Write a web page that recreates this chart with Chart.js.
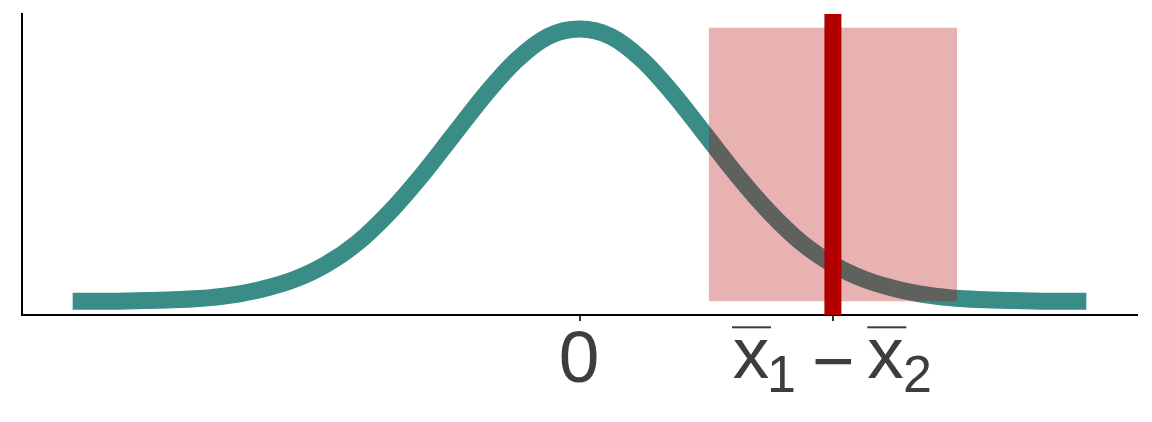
<!DOCTYPE html>
<html>
<head>
<meta charset="utf-8">
<style>
  html, body { margin: 0; padding: 0; background: #ffffff; }
  #wrap { width: 1152px; height: 422px; }
</style>
<script src="https://cdn.jsdelivr.net/npm/chart.js@4.4.0/dist/chart.umd.min.js"></script>
</head>
<body>
<div id="wrap"><canvas id="c" width="1152" height="422"></canvas></div>
<script>
// ---- data ----
const curveX = [-4, -3.75, -3.5, -3.25, -3, -2.75, -2.5, -2.25, -2, -1.75, -1.5, -1.25, -1, -0.75, -0.5, -0.25,
                0, 0.25, 0.5, 0.75, 1, 1.25, 1.5, 1.75, 2, 2.25, 2.5, 2.75, 3, 3.25, 3.5, 3.75, 4];
const curveY = [0.000, 0.000, 0.001, 0.002, 0.004, 0.009, 0.018, 0.032, 0.054, 0.086, 0.130, 0.183, 0.242, 0.301, 0.352, 0.387,
                0.398, 0.387, 0.352, 0.301, 0.242, 0.183, 0.130, 0.086, 0.054, 0.032, 0.018, 0.009, 0.004, 0.002, 0.001, 0.000, 0.000];
const intervalLow = [1.02];
const intervalHigh = [2.98];
const intervalTop = [0.40];
const observedDiff = [2];
const xTickValues = [0, 2];
const xTickLabels = ['0', 'x̄₁ − x̄₂'];

// ---- styles ----
const TEAL = '#3a8c86';
const RED = '#b20000';
const TEXT = '#3d3d3d';
const FONT = "'Liberation Sans', Arial, sans-serif";

const curveData = curveX.map((x, i) => ({ x: x, y: curveY[i] }));
const rectData = [{ x: intervalLow[0], y: intervalTop[0] }, { x: intervalHigh[0], y: intervalTop[0] }];

// label drawing: plain tick text, or x-bar-with-subscript expression
function drawInk(ctx, text, size, left, bottom) {
  ctx.font = size + 'px ' + FONT;
  const m = ctx.measureText(text);
  ctx.fillText(text, left + m.actualBoundingBoxLeft, bottom - m.actualBoundingBoxDescent);
  return m;
}

const labelPlugin = {
  id: 'labels',
  afterDraw(chart) {
    const ctx = chart.ctx;
    const xs = chart.scales.x;
    ctx.save();
    ctx.fillStyle = TEXT;
    ctx.textAlign = 'left';
    ctx.textBaseline = 'alphabetic';
    xTickValues.forEach((v, i) => {
      const p = xs.getPixelForValue(v);
      const label = xTickLabels[i];
      if (label === '0') {
        ctx.font = '73px ' + FONT;
        const m = ctx.measureText(label);
        const w = m.actualBoundingBoxLeft + m.actualBoundingBoxRight;
        drawInk(ctx, label, 73, p - 0.8 - w / 2, 382.7);
      } else {
        // x̄₁ − x̄₂
        drawInk(ctx, 'x', 73, p - 100.2, 378.3);
        ctx.fillRect(p - 100.9, 326.3, 39, 2);
        drawInk(ctx, '1', 52, p - 62.9, 391.7);
        ctx.font = '73px ' + FONT;
        const mm = ctx.measureText('−');
        const cy = 362;
        ctx.fillText('−', p - 17.9 + mm.actualBoundingBoxLeft,
          cy + (mm.actualBoundingBoxAscent - mm.actualBoundingBoxDescent) / 2);
        drawInk(ctx, 'x', 73, p + 34.4, 378.3);
        ctx.fillRect(p + 34.4, 326.3, 39, 2);
        drawInk(ctx, '2', 52, p + 72.1, 391.7);
      }
    });
    ctx.restore();
  }
};

new Chart(document.getElementById('c'), {
  type: 'line',
  data: {
    datasets: [
      {
        label: 'observed difference',
        data: [{ x: observedDiff[0], y: -0.02 }, { x: observedDiff[0], y: 0.42 }],
        borderColor: RED,
        borderWidth: 17,
        borderCapStyle: 'butt',
        pointRadius: 0,
        fill: false
      },
      {
        label: 'interval',
        data: rectData,
        borderWidth: 0,
        borderColor: 'rgba(0,0,0,0)',
        backgroundColor: 'rgba(178,0,0,0.3)',
        pointRadius: 0,
        fill: 'origin'
      },
      {
        label: 'null distribution',
        data: curveData,
        borderColor: TEAL,
        borderWidth: 17,
        borderCapStyle: 'butt',
        borderJoinStyle: 'round',
        cubicInterpolationMode: 'monotone',
        pointRadius: 0,
        fill: false
      }
    ]
  },
  options: {
    responsive: false,
    devicePixelRatio: 1,
    animation: false,
    layout: { padding: { left: 22, right: 15, top: 14, bottom: 101 } },
    plugins: { legend: { display: false }, tooltip: { enabled: false } },
    scales: {
      x: {
        type: 'linear',
        min: -4.4,
        max: 4.4,
        afterBuildTicks: (scale) => { scale.ticks = xTickValues.map(v => ({ value: v })); },
        ticks: { display: false },
        grid: { display: true, drawOnChartArea: false, drawTicks: true, tickLength: 6, color: '#333333', lineWidth: 2 },
        border: { display: true, color: '#000000', width: 2 }
      },
      y: {
        type: 'linear',
        min: -0.02,
        max: 0.42,
        ticks: { display: false },
        grid: { display: false, drawTicks: false },
        border: { display: true, color: '#000000', width: 2 }
      }
    }
  },
  plugins: [labelPlugin]
});
</script>
</body>
</html>
